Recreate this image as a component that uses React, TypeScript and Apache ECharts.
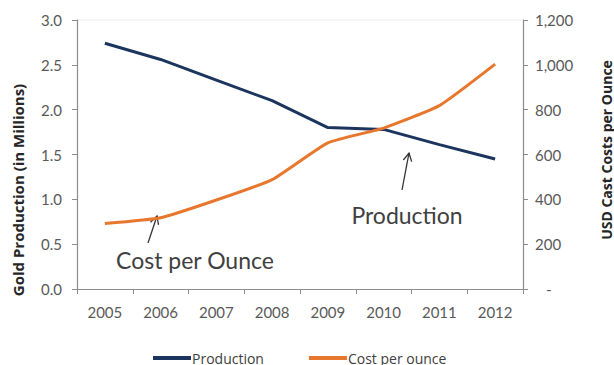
import React, { useEffect, useRef } from "react";
import * as echarts from "echarts";

// Gold production vs. cash cost per ounce, 2005–2012
const years = ["2005", "2006", "2007", "2008", "2009", "2010", "2011", "2012"];
const production = [2.74, 2.56, 2.33, 2.1, 1.8, 1.78, 1.61, 1.45];
const costPerOunce = [292, 318, 397, 488, 652, 718, 818, 1003];
const leftTicks = { min: 0, max: 3, interval: 0.5 };
const rightTicks = { min: 0, max: 1200, interval: 200 };

const NAVY = "#1C355E";
const ORANGE = "#E8772E";
const FONT = "Lato, 'Open Sans', sans-serif";
const WIDE_FONT = "'Open Sans', Lato, sans-serif";
const AXIS_GRAY = "#8C8C8C";
const LABEL_GRAY = "#595959";

// open arrowhead drawn as two strokes at the tip
function arrow(x1: number, y1: number, x2: number, y2: number) {
  const dx = x2 - x1;
  const dy = y2 - y1;
  const len = Math.hypot(dx, dy);
  const ux = dx / len;
  const uy = dy / len;
  const hl = 9;
  const a = (28 * Math.PI) / 180;
  const rot = (c: number, s: number) => [ux * c - uy * s, ux * s + uy * c];
  const [r1x, r1y] = rot(Math.cos(a), Math.sin(a));
  const [r2x, r2y] = rot(Math.cos(-a), Math.sin(-a));
  const style = { stroke: "#333", lineWidth: 1.3, fill: "none" };
  return [
    { type: "line", shape: { x1, y1, x2, y2 }, style, silent: true },
    {
      type: "polyline",
      shape: {
        points: [
          [x2 - r1x * hl, y2 - r1y * hl],
          [x2, y2],
          [x2 - r2x * hl, y2 - r2y * hl],
        ],
      },
      style,
      silent: true,
    },
  ];
}

export default function App() {
  const ref = useRef<HTMLDivElement>(null);

  useEffect(() => {
    if (!ref.current) return;
    const chart = echarts.init(ref.current, null, { renderer: "svg" });
    chart.setOption({
      animation: false,
      backgroundColor: "#ffffff",
      textStyle: { fontFamily: FONT },
      grid: { left: 77, right: 91, top: 20, bottom: 76 },
      legend: {
        left: 148,
        top: 346,
        icon: "rect",
        itemWidth: 38,
        itemHeight: 4,
        itemGap: 45,
        textStyle: {
          fontFamily: WIDE_FONT,
          fontSize: 14,
          color: "#404040",
          padding: [0, 0, 0, -4],
        },
        data: ["Production", "Cost per ounce"],
      },
      xAxis: {
        type: "category",
        data: years,
        boundaryGap: true,
        axisLine: { lineStyle: { color: AXIS_GRAY, width: 1.2 } },
        axisTick: { show: true, length: 5, lineStyle: { color: AXIS_GRAY } },
        axisLabel: { color: LABEL_GRAY, fontSize: 15, fontFamily: FONT, margin: 15 },
        splitLine: { show: false },
      },
      yAxis: [
        {
          type: "value",
          position: "left",
          ...leftTicks,
          axisLine: { show: true, lineStyle: { color: AXIS_GRAY, width: 1.2 } },
          axisTick: { show: true, length: 5, lineStyle: { color: AXIS_GRAY } },
          axisLabel: {
            color: LABEL_GRAY,
            fontSize: 15,
            fontFamily: FONT,
            margin: 15,
            formatter: (v: number) => v.toFixed(1),
          },
          splitLine: { show: false },
        },
        {
          type: "value",
          position: "right",
          ...rightTicks,
          axisLine: { show: true, lineStyle: { color: AXIS_GRAY, width: 1.2 } },
          axisTick: { show: true, length: 5, lineStyle: { color: AXIS_GRAY } },
          axisLabel: {
            color: LABEL_GRAY,
            fontSize: 15,
            fontFamily: FONT,
            margin: 12,
            formatter: (v: number) =>
              v === 0 ? "{dash|-}" : v.toLocaleString("en-US"),
            rich: { dash: { padding: [0, 0, 0, 11], fontSize: 15, color: LABEL_GRAY } },
          },
          splitLine: { show: false },
        },
      ],
      series: [
        {
          name: "Production",
          type: "line",
          yAxisIndex: 0,
          data: production,
          showSymbol: false,
          symbol: "none",
          lineStyle: { color: NAVY, width: 3 },
          itemStyle: { color: NAVY },
        },
        {
          name: "Cost per ounce",
          type: "line",
          yAxisIndex: 1,
          data: costPerOunce,
          showSymbol: false,
          symbol: "none",
          smooth: 0.15,
          lineStyle: { color: ORANGE, width: 3 },
          itemStyle: { color: ORANGE },
        },
      ],
      graphic: [
        // faint top border of the plot area
        {
          type: "line",
          shape: { x1: 77, y1: 20, x2: 523, y2: 20 },
          style: { stroke: "#ECECEC", lineWidth: 1 },
          silent: true,
        },
        {
          type: "text",
          x: 18,
          y: 190,
          rotation: Math.PI / 2,
          style: {
            text: "Gold Production (in Millions)",
            font: `bold 15px ${WIDE_FONT}`,
            fill: "#262626",
            align: "center",
            verticalAlign: "middle",
          },
        },
        {
          type: "text",
          x: 606,
          y: 150,
          rotation: Math.PI / 2,
          style: {
            text: "USD Cast Costs per Ounce",
            font: `bold 14px ${WIDE_FONT}`,
            fill: "#262626",
            align: "center",
            verticalAlign: "middle",
          },
        },
        {
          type: "text",
          x: 195,
          y: 260,
          style: {
            text: "Cost per Ounce",
            font: `23px ${FONT}`,
            fill: "#404040",
            align: "center",
            verticalAlign: "middle",
          },
        },
        {
          type: "text",
          x: 407,
          y: 215,
          style: {
            text: "Production",
            font: `23px ${FONT}`,
            fill: "#404040",
            align: "center",
            verticalAlign: "middle",
          },
        },
        ...arrow(148, 243, 157, 216),
        ...arrow(402, 190, 409, 153),
      ],
    });
    return () => chart.dispose();
  }, []);

  return (
    <div
      ref={ref}
      style={{ position: "fixed", left: 0, top: 0, width: 614, height: 365 }}
    />
  );
}
